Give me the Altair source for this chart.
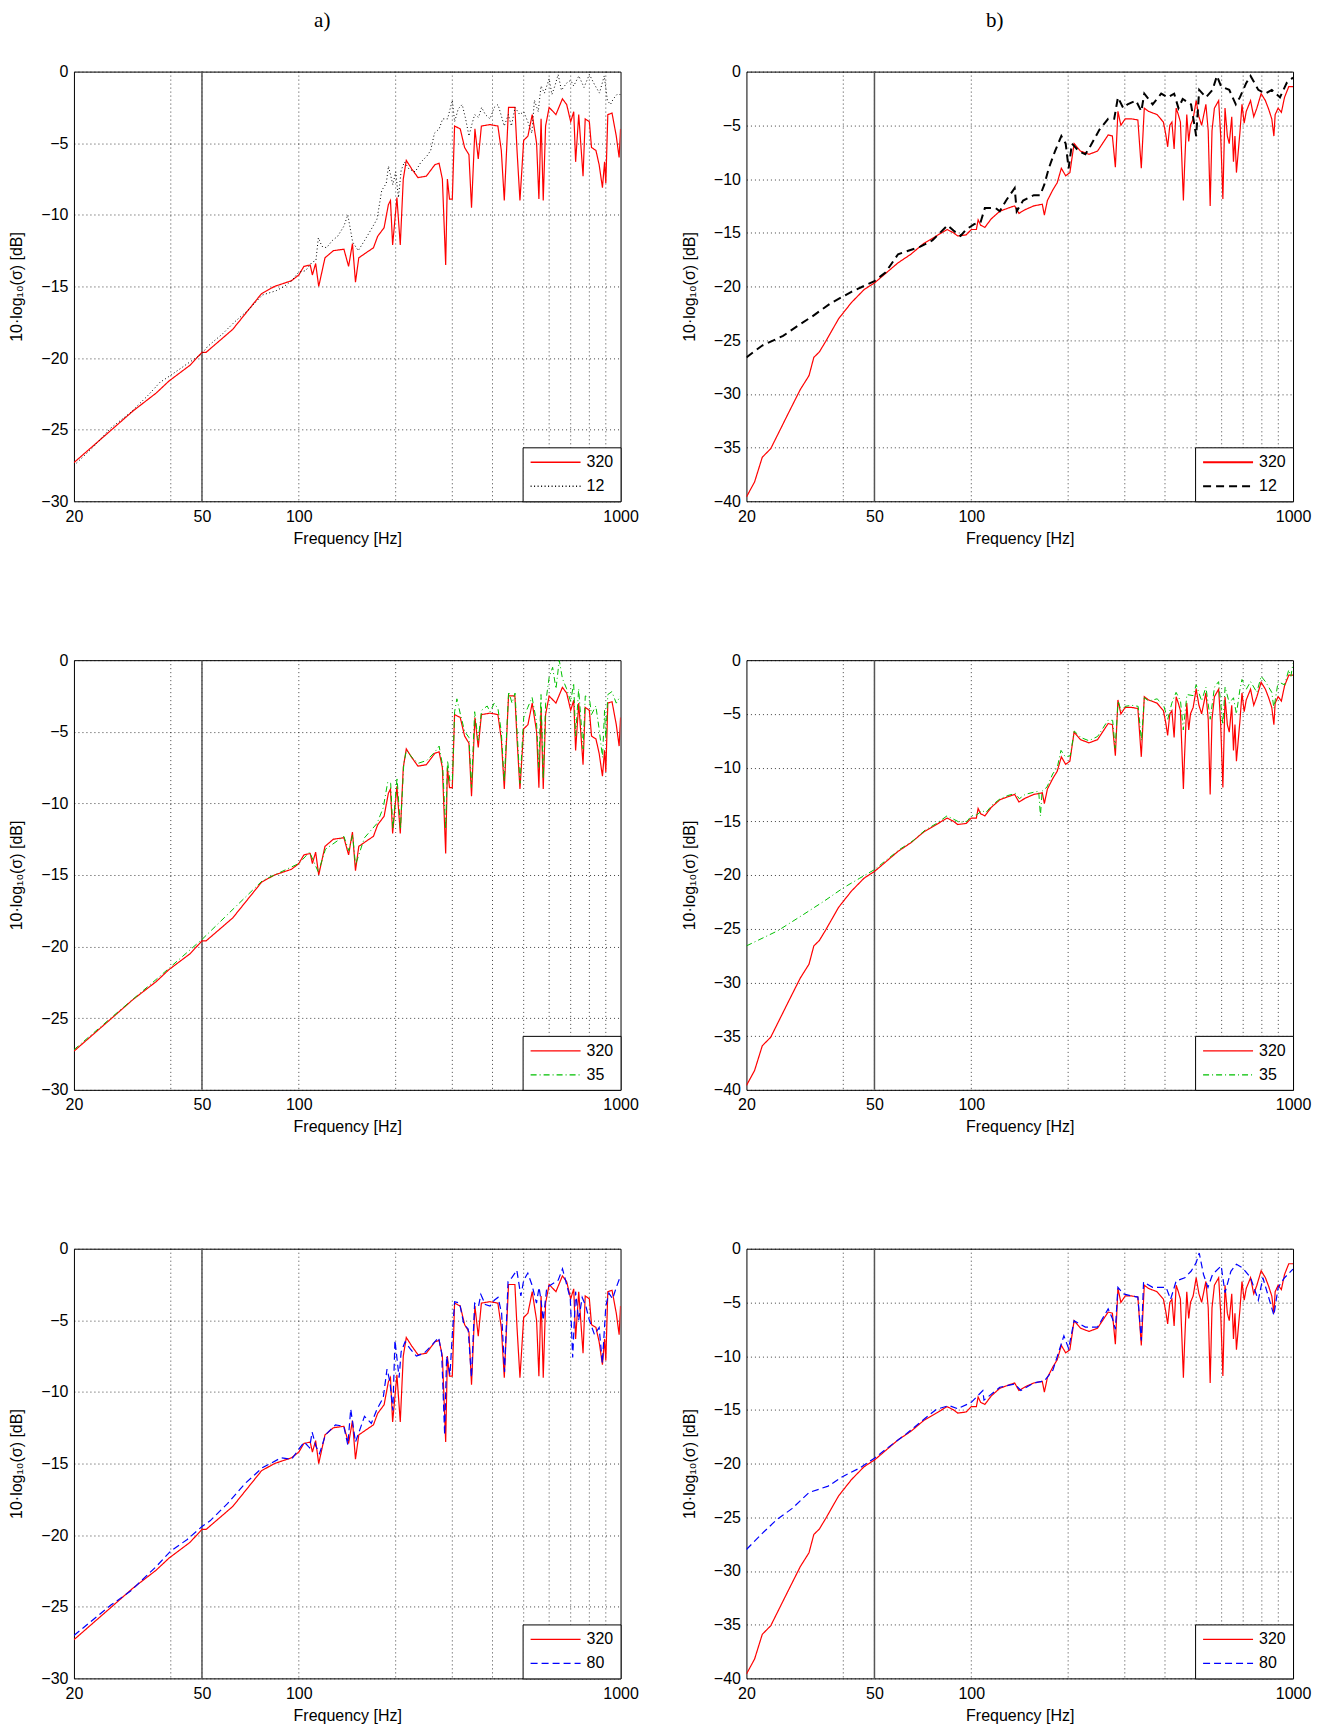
import altair as alt
import pandas as pd

# ---------------- data (frequency in Hz, level in dB) ----------------
grid_freqs = [40, 50, 100, 200, 300, 400, 500, 600, 700, 800, 900]
x_tick_labels = [20, 50, 100, 1000]
marker_freq = [50]

# reference mesh "320", left column (a)
s320a = [(20, -27.3), (25.9, -25.1), (30.5, -23.7), (36.0, -22.45), (36.6, -22.3), (39.5, -21.6),
         (45.9, -20.5), (50, -19.6), (51.5, -19.6), (62.3, -18.0), (76.6, -15.5), (84.0, -15.0),
         (94.9, -14.6), (100, -14.2), (103.7, -13.6), (108.5, -13.5), (110.2, -14.2), (112.8, -13.4),
         (115.3, -15.0), (120.6, -13.0), (128.1, -12.5), (138.1, -12.4), (142.8, -13.6), (146.8, -12.0),
         (150, -14.7), (153.6, -13.0), (163, -12.6), (170.6, -12.3), (175.8, -11.5), (184.1, -10.9),
         (189.8, -9.3), (192.7, -9.0), (195.7, -12.1), (201.8, -8.8), (206.7, -12.1), (211.2, -7.5),
         (215.8, -6.2), (224.5, -6.8), (234.6, -7.4), (249.1, -7.3), (264.8, -6.5), (272.9, -6.4),
         (279.4, -7.5), (286.1, -13.5), (289.6, -7.5), (294.0, -8.9), (300, -8.9), (304.9, -3.8),
         (317.5, -4.0), (327.6, -5.3), (337.9, -5.8), (344.2, -9.5), (352.7, -4.0), (361.2, -6.1),
         (369.4, -3.8), (392.7, -3.7), (415.7, -3.8), (426, -5.5), (435.2, -9.0), (448.6, -2.5),
         (469.5, -2.5), (476.7, -5.5), (486.8, -9.0), (500, -4.8), (515.4, -4.5), (531.5, -3.0),
         (548.4, -5.0), (557.5, -8.9), (566.3, -3.3), (575.1, -9.0), (584.8, -3.8), (600, -2.5),
         (629.8, -3.0), (659.7, -1.9), (680.2, -2.3), (700, -3.5), (715.4, -2.8), (725.1, -6.3),
         (741.4, -3.0), (764.7, -7.3), (776.6, -3.3), (800, -3.5), (812.5, -5.3), (838.5, -5.5),
         (858, -6.5), (878.6, -8.1), (892.2, -6.3), (900, -7.8), (913, -3.0), (941, -2.9),
         (970, -4.5), (990, -6.0), (1000, -4.0)]

s12a = [(20, -27.5), (23, -26.2), (26, -24.9), (30, -23.8), (34, -22.6), (37, -21.7), (40, -21.2),
        (45, -20.4), (50, -19.7), (52, -19.2), (58, -18.3), (63, -17.5), (70, -16.6), (77, -15.6),
        (85, -15.3), (90, -15.0), (95, -14.6), (100, -14.0), (105, -13.9), (110, -13.3), (113, -13.2),
        (115, -11.6), (118, -12.2), (122, -12.3), (127, -11.8), (132, -11.5), (138, -10.8), (142, -10.0),
        (147, -11.9), (153, -12.5), (160, -11.8), (168, -11.0), (175, -10.3), (181, -8.3), (187, -7.8),
        (190, -6.6), (196, -7.9), (200, -7.0), (204, -8.8), (208, -6.9), (213, -6.3), (220, -6.8),
        (230, -7.0), (240, -6.3), (250, -5.9), (257, -5.5), (264, -4.3), (273, -4.0), (280, -3.3),
        (290, -3.3), (300, -2.0), (305, -3.5), (313, -2.6), (322, -2.3), (330, -3.3), (338, -4.5),
        (344, -3.8), (352, -3.0), (362, -3.2), (370, -2.5), (380, -3.0), (393, -3.3), (405, -2.5),
        (416, -2.3), (425, -3.0), (435, -3.8), (448, -3.0), (458, -3.8), (470, -2.5), (486, -3.0),
        (500, -2.8), (515, -3.5), (530, -4.3), (540, -2.0), (555, -2.8), (566, -1.0), (580, -1.5),
        (600, -0.5), (612, -1.6), (625, -1.0), (640, -0.2), (655, -1.3), (680, -0.8), (700, -0.6),
        (715, -1.0), (742, -0.3), (770, -1.1), (800, -0.2), (830, -0.9), (860, -1.5), (890, -0.3),
        (910, -2.0), (930, -2.3), (950, -1.9), (975, -1.6), (1000, -1.6)]

s35a = [(20, -27.2), (26, -25.0), (36, -22.3), (50, -19.5), (77, -15.4), (100, -14.2), (108, -13.4),
        (115, -14.8), (121, -13.2), (138, -12.3), (143, -13.3), (147, -12.2), (150, -14.3), (160, -12.4),
        (175, -11.4), (183, -10.3), (189, -8.5), (193, -8.6), (196, -11.8), (202, -8.2), (207, -11.8),
        (212, -7.2), (216, -6.3), (225, -6.8), (235, -7.2), (250, -7.0), (265, -6.4), (273, -6.0),
        (280, -7.4), (286, -11.8), (290, -7.0), (295, -8.5), (300, -8.6), (305, -3.6), (310, -2.7),
        (318, -3.8), (328, -5.0), (338, -5.4), (344, -8.9), (352, -3.6), (361, -5.6), (370, -3.5),
        (385, -3.2), (393, -3.6), (405, -3.0), (416, -3.4), (426, -5.0), (435, -8.5), (449, -2.2),
        (460, -3.0), (470, -2.3), (477, -5.0), (487, -8.6), (500, -4.0), (515, -3.3), (531, -2.6),
        (548, -4.3), (557, -7.5), (566, -2.4), (575, -8.3), (585, -3.0), (600, -1.2), (615, -0.5),
        (630, -2.0), (645, 0.0), (660, -1.3), (680, -2.0), (700, -2.9), (715, -1.6), (725, -5.3),
        (741, -2.0), (765, -6.2), (777, -2.5), (800, -2.6), (812, -3.8), (838, -3.2), (858, -4.8),
        (879, -6.8), (892, -3.5), (900, -5.5), (913, -2.4), (940, -2.2), (970, -3.0), (1000, -2.5)]

s80a = [(20, -27.0), (26, -24.9), (30, -23.9), (36, -22.2), (40, -21.1), (45, -20.3), (50, -19.4),
        (53, -19.0), (60, -17.8), (68, -16.4), (77, -15.3), (88, -14.6), (95, -14.7), (100, -14.0),
        (104, -13.5), (108, -13.9), (110, -12.8), (113, -13.8), (116, -14.3), (121, -13.0), (130, -12.3),
        (138, -12.4), (142, -13.7), (145, -11.2), (150, -13.5), (155, -12.6), (160, -11.7), (168, -12.2),
        (175, -11.2), (183, -10.4), (188, -8.4), (192, -9.3), (196, -11.3), (199, -6.4), (205, -9.0),
        (208, -7.2), (214, -6.5), (222, -7.0), (232, -7.5), (245, -7.3), (260, -6.7), (272, -6.2),
        (278, -7.3), (284, -13.0), (288, -7.5), (295, -8.8), (300, -6.0), (305, -3.7), (316, -3.8),
        (326, -5.3), (336, -5.6), (344, -9.0), (352, -3.8), (362, -4.0), (368, -3.2), (380, -3.9),
        (393, -4.0), (405, -3.6), (416, -3.4), (427, -4.5), (436, -8.6), (447, -2.3), (460, -2.0),
        (476, -1.5), (490, -3.3), (500, -2.2), (515, -1.7), (530, -2.5), (548, -3.8), (558, -2.7),
        (566, -3.6), (575, -5.0), (590, -2.7), (610, -2.5), (640, -2.2), (660, -1.4), (680, -2.5),
        (698, -3.5), (710, -7.6), (725, -3.0), (741, -5.0), (760, -3.4), (780, -4.0), (800, -5.0),
        (830, -6.0), (858, -5.5), (878, -8.0), (900, -4.0), (920, -3.1), (945, -3.5), (970, -2.7),
        (1000, -1.9)]

# reference mesh "320", right column (b)
s320b = [(20, -39.6), (21.2, -38.2), (22.4, -35.9), (23.8, -35.1), (26.9, -31.9), (29.4, -29.6),
         (31.3, -28.3), (32.4, -26.6), (33.7, -26.1), (35.3, -25.1), (38.7, -23.0), (42.4, -21.5),
         (46.4, -20.3), (50.1, -19.65), (54.1, -18.8), (59.2, -17.8), (64.9, -17.0), (71.1, -16.0),
         (77.9, -15.3), (84.1, -14.7), (88.0, -15.0), (90.7, -15.3), (96.4, -15.2), (100, -14.7),
         (103.7, -14.7), (105, -13.8), (106.9, -14.3), (110.2, -14.5), (115.4, -13.7), (122.6, -13.0),
         (130.3, -12.7), (136.4, -12.5), (140.6, -13.2), (147.1, -12.85), (156.4, -12.5), (166.2, -12.35),
         (168.7, -13.35), (172.4, -12.0), (179.3, -11.0), (184.9, -10.35), (190.5, -9.0), (196.5, -9.7),
         (202.5, -9.4), (208.7, -6.7), (218.5, -7.4), (232.2, -7.7), (246.8, -7.4), (266.3, -5.9),
         (274.5, -6.0), (280.4, -8.9), (285.6, -3.7), (291.7, -5.0), (300.8, -4.4), (314.8, -4.4),
         (329.4, -4.5), (337.6, -9.0), (344.9, -3.4), (355.5, -3.7), (377.8, -4.0), (395.5, -4.7),
         (402, -5.8), (407.7, -7.0), (414, -5.0), (420.3, -4.7), (427, -7.2), (433.3, -3.4), (440, -4.0),
         (446.7, -4.7), (456.3, -12.0), (460, -9.0), (467.5, -4.0), (474, -6.5), (480, -5.0),
         (489.3, -4.4), (500, -2.7), (510, -4.2), (520, -5.0), (536, -3.05), (545, -5.5), (552.7, -12.5),
         (560, -5.5), (569.7, -3.4), (587.3, -2.7), (596, -6.0), (605.3, -11.85), (614.6, -3.4),
         (625, -6.0), (633.6, -6.7), (645, -4.2), (653, -8.4), (660, -6.0), (667, -9.4), (683.7, -5.7),
         (694, -3.05), (705, -4.8), (715.6, -3.7), (737.9, -2.7), (755, -4.2), (772, -3.4), (796, -2.05),
         (820.6, -2.7), (840, -3.5), (859, -4.4), (872, -6.0), (880, -4.0), (899, -3.4), (920, -3.8),
         (941, -2.4), (970, -1.4), (1000, -1.4)]

s12b = [(20, -26.6), (22.4, -25.5), (26.0, -24.6), (29.4, -23.5), (32.0, -22.8), (36.4, -21.6),
        (42.4, -20.5), (50, -19.5), (54.1, -18.7), (59.2, -17.0), (69.4, -16.3), (75.8, -15.7),
        (84.4, -14.3), (88.0, -14.8), (92.6, -15.3), (96.4, -14.7), (102.1, -14.2), (106.9, -14.0),
        (110.2, -12.7), (118.9, -12.7), (122.6, -13.0), (128.3, -12.0), (136.4, -10.85), (138.4, -13.0),
        (144.9, -12.0), (156.4, -11.5), (163.8, -11.5), (168.7, -10.5), (174.1, -9.0), (182.1, -7.4),
        (190.5, -6.0), (196.5, -6.7), (200.7, -9.0), (205.5, -6.7), (215.8, -7.4), (226.2, -7.7),
        (234.8, -6.9), (250.3, -5.4), (266.3, -4.4), (278.1, -4.4), (285.6, -2.4), (296.7, -3.4),
        (306, -3.05), (325, -2.7), (337.6, -3.7), (344.9, -2.05), (366.2, -3.05), (389.3, -2.05),
        (407.7, -2.4), (427.1, -2.05), (440.4, -3.4), (454, -2.55), (482, -3.05), (500, -6.0),
        (511, -1.7), (536, -2.4), (562, -1.7), (580, -0.4), (598, -1.4), (633.6, -1.7), (664, -3.05),
        (683.7, -2.4), (715.6, -1.05), (737.9, -0.4), (780, -1.7), (820.6, -2.05), (859, -1.7),
        (911, -2.4), (956, -1.05), (1000, -0.55)]

s35b = [(20, -26.6), (25, -25.2), (30, -23.7), (35, -22.4), (40, -21.2), (45, -20.3), (50, -19.5),
        (55, -18.5), (60, -17.6), (66, -16.8), (72, -15.8), (78, -15.2), (84, -14.5), (88, -14.8),
        (92, -15.1), (97, -15.0), (100, -14.5), (104, -14.4), (108, -14.0), (111, -14.2), (116, -13.5),
        (123, -12.9), (130, -12.6), (137, -12.4), (141, -12.9), (147, -12.5), (156, -12.3), (162, -12.2),
        (164, -14.5), (166, -12.2), (172, -11.8), (179, -10.6), (185, -10.0), (190, -8.4), (196, -9.0),
        (203, -8.9), (209, -6.6), (219, -7.2), (232, -7.5), (247, -7.1), (266, -5.6), (275, -5.6),
        (280, -8.2), (286, -3.8), (292, -4.7), (301, -4.3), (315, -4.2), (330, -4.3), (338, -7.5),
        (345, -3.5), (356, -3.8), (378, -3.6), (396, -4.2), (408, -5.5), (420, -4.0), (433, -3.0),
        (447, -3.8), (456, -6.5), (468, -3.2), (489, -3.3), (500, -2.3), (520, -3.8), (536, -2.5),
        (553, -5.5), (570, -2.5), (587, -2.0), (605, -6.0), (615, -2.5), (634, -4.0), (653, -3.5),
        (667, -5.0), (684, -2.7), (694, -1.8), (716, -2.7), (738, -2.0), (772, -3.0), (796, -1.5),
        (821, -2.0), (859, -3.0), (872, -4.5), (899, -2.0), (941, -2.3), (970, -0.9), (985, -1.5),
        (1000, -0.3)]

s80b = [(20, -28.0), (22.4, -26.5), (24.9, -25.2), (27.7, -24.2), (31.3, -22.7), (35.9, -22.1),
        (39.9, -21.2), (45.1, -20.4), (50, -19.5), (55.7, -18.4), (63.0, -17.2), (71.1, -15.9),
        (77.9, -14.95), (85.3, -14.6), (90.7, -14.9), (100, -14.3), (108.6, -13.2), (109.5, -14.1),
        (122.6, -12.9), (136.4, -12.6), (142.6, -13.2), (156.4, -12.5), (168.7, -12.3), (179.3, -11.3),
        (194.0, -8.1), (200.7, -9.3), (208.7, -6.7), (226.2, -7.3), (246.8, -7.3), (266.3, -5.6),
        (274.5, -6.5), (280.4, -7.5), (285.6, -3.6), (296.7, -4.2), (314.8, -4.4), (329.4, -4.5),
        (337.6, -8.55), (343.1, -3.1), (366.2, -3.6), (403.1, -3.6), (416.5, -4.7), (433.3, -3.0),
        (460.8, -2.7), (482, -2.1), (500, -1.3), (511, -0.4), (527, -2.4), (544, -3.6), (562, -2.4),
        (598, -1.6), (614.6, -4.1), (641, -2.1), (667, -1.45), (698, -1.8), (737.9, -2.7), (780, -4.8),
        (806, -2.7), (872, -6.2), (899, -3.6), (941, -2.7), (1000, -1.9)]

# ---------------- chart ----------------
FONT = "Liberation Sans"
PW, PH = 547, 430


def frame(pairs, name):
    return pd.DataFrame({"f": [p[0] for p in pairs], "db": [p[1] for p in pairs], "series": name})


def panel(ref, other, name, color, dash, width_other, ymin, title=None, legend_sw=1.4):
    xscale = alt.Scale(type="log", domain=[20, 1000], nice=False)
    yscale = alt.Scale(domain=[ymin, 0], nice=False, zero=False)
    xaxis = alt.Axis(values=x_tick_labels, format="d", title="Frequency [Hz]", grid=False,
                     ticks=False, domain=False, labelFlush=False, labelOverlap=False,
                     labelFontSize=16, titleFontSize=16, labelFont=FONT, titleFont=FONT,
                     titleFontWeight="normal", labelColor="black", titleColor="black",
                     labelPadding=7, titlePadding=6)
    yaxis = alt.Axis(values=list(range(ymin, 1, 5)), format="d", title="10·log₁₀(σ) [dB]",
                     grid=True, gridDash=[1, 3], gridColor="black", gridOpacity=0.75,
                     ticks=False, domain=False, labelFontSize=16, titleFontSize=16,
                     labelFont=FONT, titleFont=FONT, titleFontWeight="normal",
                     labelColor="black", titleColor="black", labelPadding=6,
                     titleX=-57, titleY=PH / 2, titleBaseline="middle", titleAlign="center")
    xenc = alt.X("f:Q", scale=xscale, axis=xaxis)
    yenc = alt.Y("db:Q", scale=yscale, axis=yaxis)
    leg = alt.Legend(title=None, orient="bottom-right", offset=0, fillColor="white",
                     strokeColor="black", padding=7, labelFontSize=16, labelFont=FONT,
                     labelColor="black", symbolType="stroke", symbolSize=2500, clipHeight=16,
                     symbolStrokeWidth=legend_sw, rowPadding=8, labelOffset=5, cornerRadius=0)
    dom = ["320", name]
    cenc = alt.Color("series:N", scale=alt.Scale(domain=dom, range=["#ff0000", color]), legend=leg)
    denc = alt.StrokeDash("series:N", scale=alt.Scale(domain=dom, range=[[1, 0], dash]), legend=leg)

    grid = alt.Chart(pd.DataFrame({"f": grid_freqs})).mark_rule(
        color="black", strokeDash=[1, 3], strokeWidth=1, opacity=0.75).encode(x=xenc)
    marker = alt.Chart(pd.DataFrame({"f": marker_freq})).mark_rule(
        color="#555555", strokeWidth=1.5).encode(x=xenc)
    l_ref = alt.Chart(frame(ref, "320")).mark_line(strokeWidth=1.2, clip=True).encode(
        x=xenc, y=yenc, color=cenc, strokeDash=denc)
    l_oth = alt.Chart(frame(other, name)).mark_line(strokeWidth=width_other, clip=True).encode(
        x=xenc, y=yenc, color=cenc, strokeDash=denc)
    props = dict(width=PW, height=PH)
    if title:
        props["title"] = alt.TitleParams(title, font="Liberation Serif", fontSize=21,
                                         fontWeight="normal", color="black", anchor="middle",
                                         dx=-25, offset=12, baseline="bottom", frame="group")
    return alt.layer(grid, marker, l_ref, l_oth).properties(**props)


p1 = panel(s320a, s12a, "12", "#000000", [1, 2.5], 1.0, -30, "a)")
p2 = panel(s320b, s12b, "12", "#000000", [8, 5], 2.0, -40, "b)", legend_sw=2.0)
p3 = panel(s320a, s35a, "35", "#00c000", [6, 3, 1, 3], 1.0, -30)
p4 = panel(s320b, s35b, "35", "#00c000", [6, 3, 1, 3], 1.0, -40)
p5 = panel(s320a, s80a, "80", "#0000ff", [7, 4], 1.2, -30)
p6 = panel(s320b, s80b, "80", "#0000ff", [7, 4], 1.2, -40)

chart = alt.concat(p1, p2, p3, p4, p5, p6, columns=2, bounds="flush",
                   spacing={"row": 159, "column": 126}).resolve_scale(
    color="independent", strokeDash="independent", x="independent", y="independent"
).resolve_legend(color="independent", strokeDash="independent").properties(
    padding={"left": 0, "top": 0, "right": 5, "bottom": 5}
).configure(font=FONT).configure_view(stroke="black", strokeWidth=1)

chart.save("out.html", embed_options={"renderer": "svg", "actions": False})
